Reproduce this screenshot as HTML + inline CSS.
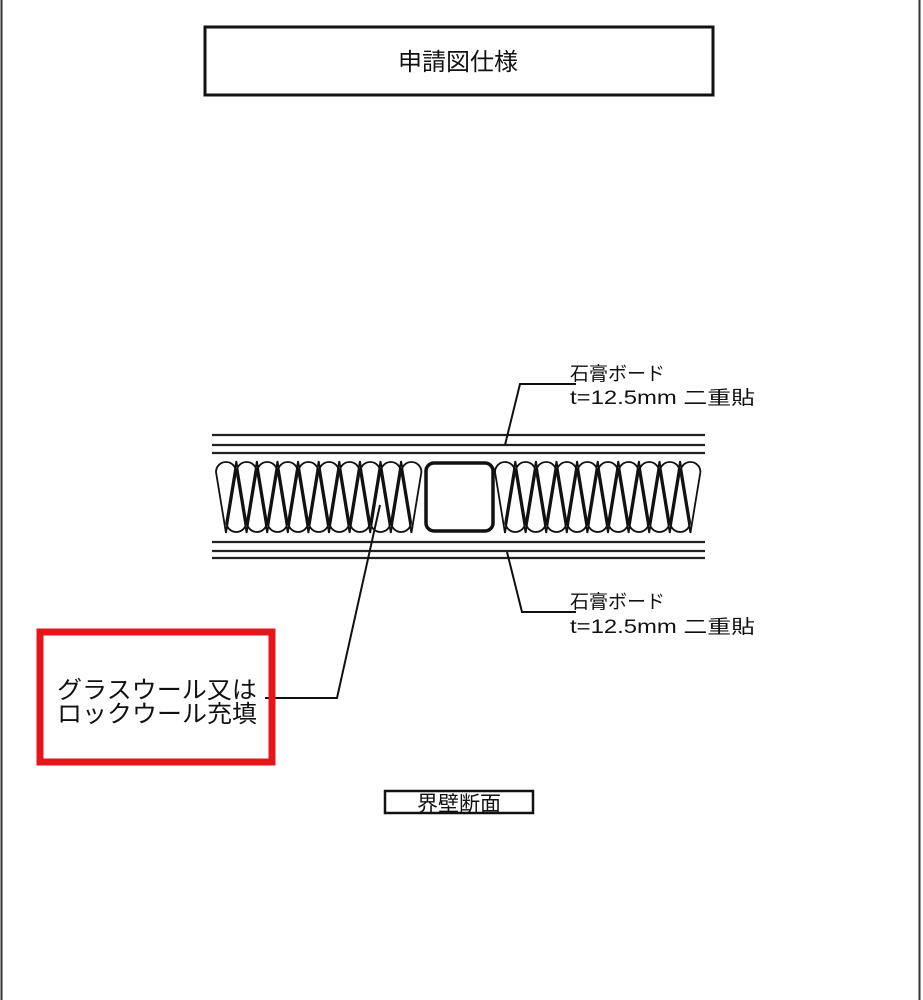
<!DOCTYPE html>
<html><head><meta charset="utf-8"><style>
html,body{margin:0;padding:0;background:#fff;}
body{width:923px;height:1000px;overflow:hidden;position:relative;}
svg{position:absolute;left:0;top:0;}
text{font-family:"Liberation Sans","Noto Sans CJK JP",sans-serif;fill:#111;}
</style></head><body>
<svg width="923" height="1000" viewBox="0 0 923 1000">
<line x1="1.5" y1="0" x2="1.5" y2="1000" stroke="#333" stroke-width="2"/>
<line x1="919.5" y1="0" x2="919.5" y2="1000" stroke="#333" stroke-width="2"/>
<rect x="205" y="27" width="508" height="68" fill="none" stroke="#111" stroke-width="3"/>
<text x="458" y="70" font-size="24" text-anchor="middle">申請図仕様</text>
<g stroke="#222" stroke-width="2.2">
<line x1="212" y1="435" x2="705" y2="435"/>
<line x1="212" y1="445" x2="705" y2="445"/>
<line x1="212" y1="453" x2="705" y2="453"/>
<line x1="212" y1="542" x2="705" y2="542"/>
<line x1="212" y1="551" x2="705" y2="551"/>
<line x1="212" y1="558" x2="705" y2="558"/>
</g>
<g fill="none" stroke="#111" stroke-width="1.8" id="wool"></g>
<rect x="426" y="463" width="67" height="68" rx="8" fill="#fff" stroke="#111" stroke-width="3.5"/>
<polyline points="505,445 520,384 576,384" fill="none" stroke="#111" stroke-width="2"/>
<polyline points="507,552 522,612 576,612" fill="none" stroke="#111" stroke-width="2"/>
<polyline points="265,698 337,698 380,505" fill="none" stroke="#111" stroke-width="2"/>
<text x="570" y="380" font-size="19">石膏ボード</text>
<text x="570" y="404" font-size="19" textLength="185" lengthAdjust="spacingAndGlyphs">t=12.5mm 二重貼</text>
<text x="570" y="608" font-size="19">石膏ボード</text>
<text x="570" y="633" font-size="19" textLength="185" lengthAdjust="spacingAndGlyphs">t=12.5mm 二重貼</text>
<rect x="40" y="632" width="232" height="130" fill="none" stroke="#e8141b" stroke-width="7"/>
<text x="57" y="698" font-size="24" textLength="200" lengthAdjust="spacingAndGlyphs">グラスウール又は</text>
<text x="57" y="722" font-size="24" textLength="200" lengthAdjust="spacingAndGlyphs">ロックウール充填</text>
<rect x="385" y="791" width="148" height="22" fill="none" stroke="#111" stroke-width="2.5"/>
<text x="459" y="811" font-size="21" text-anchor="middle">界壁断面</text>
</svg>
<script>
var g=document.getElementById('wool');var s='';var r=10,w=20.6;
function up(c){s+='<path d="M'+c+',533 L'+(c-r)+',472 A'+r+','+r+' 0 0 1 '+(c+r)+',472 Z"/>';}
function dn(c){s+='<path d="M'+c+',461 L'+(c-r)+',522 A'+r+','+r+' 0 0 0 '+(c+r)+',522 Z"/>';}
function loops(x0,x1){for(var c=x0+r;c<=x1-r+1;c+=w){up(c);if(c+w/2<=x1-r+1)dn(c+w/2);}}
loops(216,424);loops(495,704);g.innerHTML=s;
</script>
</body></html>
